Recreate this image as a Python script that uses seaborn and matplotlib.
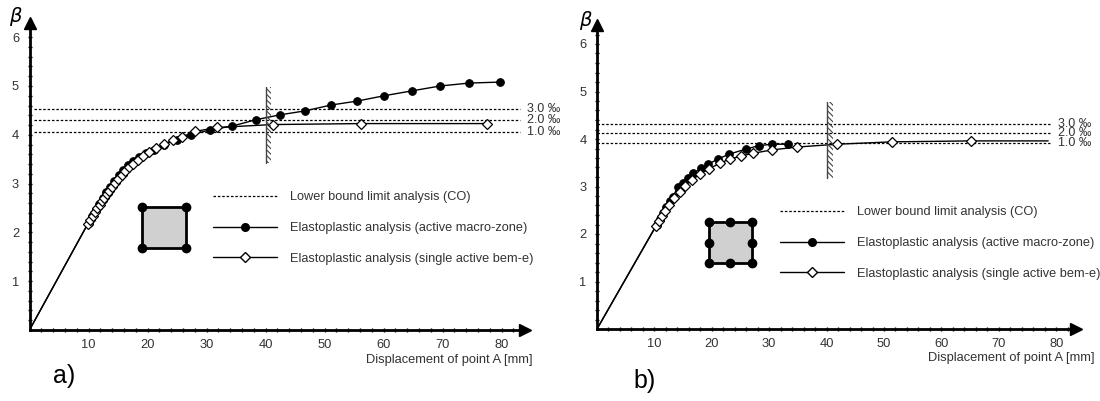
import numpy as np
import matplotlib.pyplot as plt
from matplotlib.patches import Rectangle
from matplotlib.lines import Line2D
import seaborn as sns

# panel a) - 4 node macro zone
a_macro_x = [0, 10.0, 10.6, 11.2, 11.8, 12.4, 13.0, 13.7, 14.4, 15.1, 15.9, 16.7, 17.6, 18.6, 19.7,
             21.1, 22.8, 25.0, 27.4, 30.6, 34.4, 38.4, 42.5, 46.7, 51.1, 55.5, 60.1, 64.8, 69.6, 74.5, 79.7]
a_macro_b = [0, 2.20, 2.33, 2.46, 2.58, 2.70, 2.82, 2.94, 3.06, 3.17, 3.28, 3.38, 3.47, 3.55, 3.62,
             3.69, 3.80, 3.90, 4.00, 4.10, 4.18, 4.31, 4.41, 4.49, 4.61, 4.69, 4.80, 4.90, 5.00, 5.06, 5.08]
a_single_x = [0, 9.9, 10.3, 10.7, 11.1, 11.5, 11.9, 12.3, 12.7, 13.1, 13.5, 14.0, 14.5, 15.0, 15.6, 16.2,
              16.9, 17.6, 18.4, 19.3, 20.3, 21.5, 22.8, 24.3, 25.9, 28.1, 31.8, 41.2, 56.2, 77.6]
a_single_b = [0, 2.18, 2.26, 2.34, 2.42, 2.50, 2.57, 2.64, 2.71, 2.78, 2.85, 2.93, 3.01, 3.09, 3.17, 3.25,
              3.33, 3.41, 3.49, 3.57, 3.65, 3.73, 3.81, 3.89, 3.96, 4.07, 4.15, 4.21, 4.23, 4.23]
a_limits = [4.06, 4.31, 4.53]

# panel b) - 8 node macro zone
b_macro_x = [0, 10.4, 10.9, 11.5, 12.1, 12.7, 13.2, 14.1, 15.0, 15.9, 16.8, 18.1, 19.4, 21.1, 23.0,
             26.0, 28.2, 30.5, 33.3]
b_macro_b = [0, 2.20, 2.32, 2.45, 2.57, 2.69, 2.78, 2.99, 3.07, 3.18, 3.28, 3.38, 3.47, 3.58, 3.68,
             3.79, 3.86, 3.89, 3.89]
b_single_x = [0, 10.3, 10.8, 11.3, 11.8, 12.5, 13.4, 14.5, 15.3, 16.5, 17.9, 19.5, 21.4, 23.2, 25.1,
              27.2, 30.5, 34.8, 41.8, 51.4, 65.2, 78.6]
b_single_b = [0, 2.17, 2.27, 2.38, 2.48, 2.61, 2.75, 2.88, 3.01, 3.13, 3.26, 3.37, 3.49, 3.58, 3.64,
              3.70, 3.77, 3.83, 3.89, 3.94, 3.96, 3.96]
b_limits = [3.92, 4.13, 4.32]

limit_labels = ['1.0 ‰', '2.0 ‰', '3.0 ‰']
legend_labels = ['Lower bound limit analysis (CO)',
                 'Elastoplastic analysis (active macro-zone)',
                 'Elastoplastic analysis (single active bem-e)']
x_ticks = [10, 20, 30, 40, 50, 60, 70, 80]
y_ticks = [1, 2, 3, 4, 5, 6]

sns.set_style('white')
plt.rcParams['font.family'] = ['Liberation Sans', 'DejaVu Sans']
plt.rcParams['hatch.linewidth'] = 0.8
txt = '#333333'

fig = plt.figure(figsize=(11, 4.01), dpi=100)
axa = fig.add_axes([29.5 / 1100, 71 / 401, 84 * 5.9 / 1100, 6.3 * 48.8 / 401])
axb = fig.add_axes([597 / 1100, 72 / 401, 83.5 * 5.74 / 1100, 6.39 * 47.5 / 401])

panels = [
    (axa, a_macro_x, a_macro_b, a_single_x, a_single_b, a_limits, 84, 6.3, 0.8, 83.2, 84.3,
     (40.0, 3.42, 4.98), (19.1, 26.5, 1.68, 2.52), False, (213, 228), 'a)', (53, 376),
     (533, 360), (15, 17)),
    (axb, b_macro_x, b_macro_b, b_single_x, b_single_b, b_limits, 83.5, 6.39, 0, 78.9, 80.3,
     (40.1, 3.18, 4.78), (19.5, 27.0, 1.39, 2.25), True, (780, 243), 'b)', (633, 381),
     (1095, 358), (585, 20)),
]

for (ax, mx, mb, sx, sb, lims, xtop, ytop, lim_start, lim_end, lab_x, wall, sq, mid_nodes,
     leg_pos, tag, tag_pos, xlab_pos, beta_pos) in panels:
    ax.set_xlim(0, xtop)
    ax.set_ylim(0, ytop)
    # limit analysis lines
    for v, lab in zip(lims, limit_labels):
        ax.plot([lim_start, lim_end], [v, v], color='k', ls=(0, (2, 1.5)), lw=0.9)
        ax.text(lab_x, v, lab, va='center', ha='left', fontsize=9, color=txt, clip_on=False)
    # elastoplastic curves
    sns.lineplot(x=sx, y=sb, ax=ax, color='k', lw=1.0, marker='D', ms=5, mfc='white',
                 mec='k', mew=0.9, markevery=list(range(1, len(sx) - (0 if sx[-1] < 78 else 1))),
                 estimator=None, sort=False, zorder=3)
    sns.lineplot(x=mx, y=mb, ax=ax, color='k', lw=1.0, marker='o', ms=5.5, mfc='k', mec='k',
                 markevery=list(range(1, len(mx))), estimator=None, sort=False, zorder=2)
    # wall
    ax.add_patch(Rectangle((wall[0], wall[1]), 1.0, wall[2] - wall[1], fill=False,
                           hatch='\\\\\\\\\\\\', edgecolor='#444444', lw=0, zorder=4))
    ax.plot([wall[0], wall[0]], [wall[1], wall[2]], color='#444444', lw=1, zorder=4)
    # inset macro-zone sketch
    x0, x1, y0, y1 = sq
    ax.add_patch(Rectangle((x0, y0), x1 - x0, y1 - y0, facecolor='#d0d0d0', edgecolor='k',
                           lw=2, zorder=3))
    nx = [x0, x1, x1, x0]
    ny = [y0, y0, y1, y1]
    if mid_nodes:
        xm, ym = (x0 + x1) / 2, (y0 + y1) / 2
        nx += [xm, x1, xm, x0]
        ny += [y0, ym, y1, ym]
    ax.plot(nx, ny, 'o', color='k', ms=6, zorder=4)

    # axes styling
    for s in ['top', 'right']:
        ax.spines[s].set_visible(False)
    for s in ['left', 'bottom']:
        ax.spines[s].set_linewidth(2)
        ax.spines[s].set_color('k')
    ax.plot(1, 0, '>', color='k', ms=8, transform=ax.get_yaxis_transform(), clip_on=False)
    ax.plot(0, 1, '^', color='k', ms=8, transform=ax.get_xaxis_transform(), clip_on=False)
    ax.set_xticks(x_ticks)
    ax.set_yticks(y_ticks)
    ax.set_xticks(np.arange(2, 83, 2), minor=True)
    ax.set_yticks(np.arange(0.2, ytop, 0.2), minor=True)
    ax.tick_params(which='both', direction='inout', length=3, width=1, colors='k',
                   labelcolor=txt, labelsize=9.3, bottom=True, left=True)
    ax.tick_params(axis='x', pad=5)
    ax.tick_params(axis='y', pad=6)
    ax.grid(False)
    ax.set_facecolor('none')

    fig.text(beta_pos[0] / 1100, 1 - beta_pos[1] / 401, 'β', fontsize=14, style='italic',
             ha='center', va='center', color='k', family=['DejaVu Sans'])
    fig.text(xlab_pos[0] / 1100, 1 - xlab_pos[1] / 401, 'Displacement of point A [mm]',
             ha='right', va='center', fontsize=9.3, color=txt)

    handles = [
        Line2D([], [], color='k', ls=(0, (2, 1.5)), lw=0.9),
        Line2D([], [], color='k', lw=1.0, marker='o', ms=5.5),
        Line2D([], [], color='k', lw=1.0, marker='D', ms=5, mfc='white', mec='k'),
    ]
    fig.legend(handles, legend_labels, loc='center left',
               bbox_to_anchor=(leg_pos[0] / 1100, 1 - leg_pos[1] / 401),
               frameon=False, fontsize=9.2, handlelength=5.0, handletextpad=1.0,
               labelspacing=1.45, borderpad=0, borderaxespad=0, labelcolor=txt)
    fig.text(tag_pos[0] / 1100, 1 - tag_pos[1] / 401, tag, fontsize=18, va='center',
             ha='left', color='k')

fig.savefig('out.png', dpi=100)
